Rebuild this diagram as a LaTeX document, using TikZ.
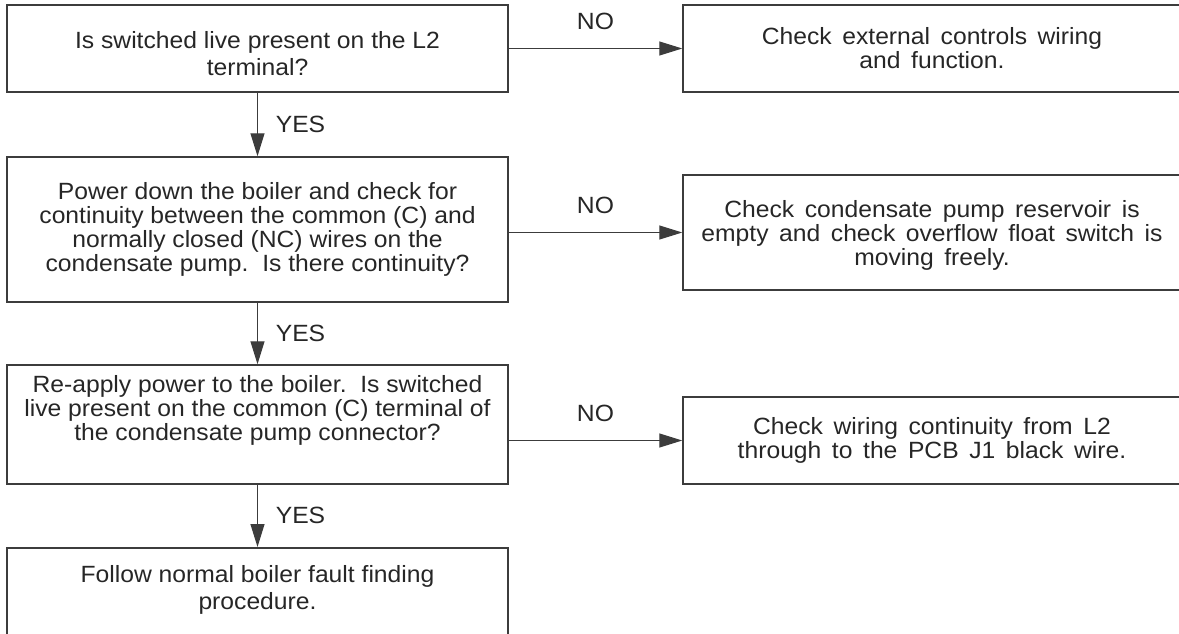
\documentclass[tikz,border=0pt]{standalone}
\usepackage{fontspec}
\setmainfont{Liberation Sans}[FakeStretch=1.05]
\usetikzlibrary{arrows.meta}
\definecolor{inkgrey}{HTML}{262626}
\definecolor{framegrey}{HTML}{3C3C3C}
\newcommand\widespaces{\spaceskip=0.45em\relax}
\tikzset{
  ask/.style={draw=framegrey, line width=1.5pt, align=center, inner sep=0pt,
    minimum width=501pt, text=inkgrey, font=\fontsize{23.5}{24}\selectfont},
  fix/.style={ask, minimum width=498pt, font=\fontsize{23.5}{24}\selectfont\widespaces},
  flow/.style={-{Triangle[length=23pt, width=14pt]}, line width=1.2pt, draw=framegrey},
  flabel/.style={font=\fontsize{23.5}{24}\selectfont, text=inkgrey, inner sep=0pt},
}

\begin{document}
\begin{tikzpicture}[x=1pt,y=-1pt]
\clip (0,0) rectangle (1179,634);
% questions down the left, remedies on the right (cut off by the page edge)
\node[ask, minimum height=87pt, text height=54pt, text depth=0pt, font=\fontsize{23.5}{27}\selectfont] (q1) at (257.5,48.5) {Is switched live present on the L2\\terminal?};
\node[fix, minimum height=87pt] (a1) at (932,48.5) {Check external controls wiring\\and function.};
\node[ask, minimum height=145pt] (q2) at (257.5,229.5) {Power down the boiler and check for\\continuity between the common (C) and\\normally closed (NC) wires on the\\condensate pump.\ \ Is there continuity?};
\node[fix, minimum height=115pt, text height=71pt] (a2) at (932,232.5) {Check condensate pump reservoir is\\empty and check overflow float switch is\\moving freely.};
\node[ask, minimum height=119pt, text depth=33pt] (q3) at (257.5,424.5) {Re-apply power to the boiler.\ \ Is switched\\live present on the common (C) terminal of\\the condensate pump connector?};
\node[fix, minimum height=87pt] (a3) at (932,440.5) {Check wiring continuity from L2\\through to the PCB J1 black wire.};
\node[ask, anchor=north, inner ysep=18pt, text depth=60pt, font=\fontsize{23.5}{27}\selectfont] (q4) at (257.5,547) {Follow normal boiler fault finding\\procedure.};
\draw[flow] (q1.east) -- (a1.west) node[flabel, midway, yshift=27pt]{NO};
\draw[flow] (q2.east |- a2.west) -- (a2.west) node[flabel, midway, yshift=27pt]{NO};
\draw[flow] (q3.east |- a3.west) -- (a3.west) node[flabel, midway, yshift=27pt]{NO};
\draw[flow] (q1.south) -- (q2.north) node[flabel, midway, xshift=43pt]{YES};
\draw[flow] (q2.south) -- (q3.north) node[flabel, midway, xshift=43pt]{YES};
\draw[flow] (q3.south) -- (q4.north) node[flabel, midway, xshift=43pt]{YES};
\end{tikzpicture}
\end{document}
